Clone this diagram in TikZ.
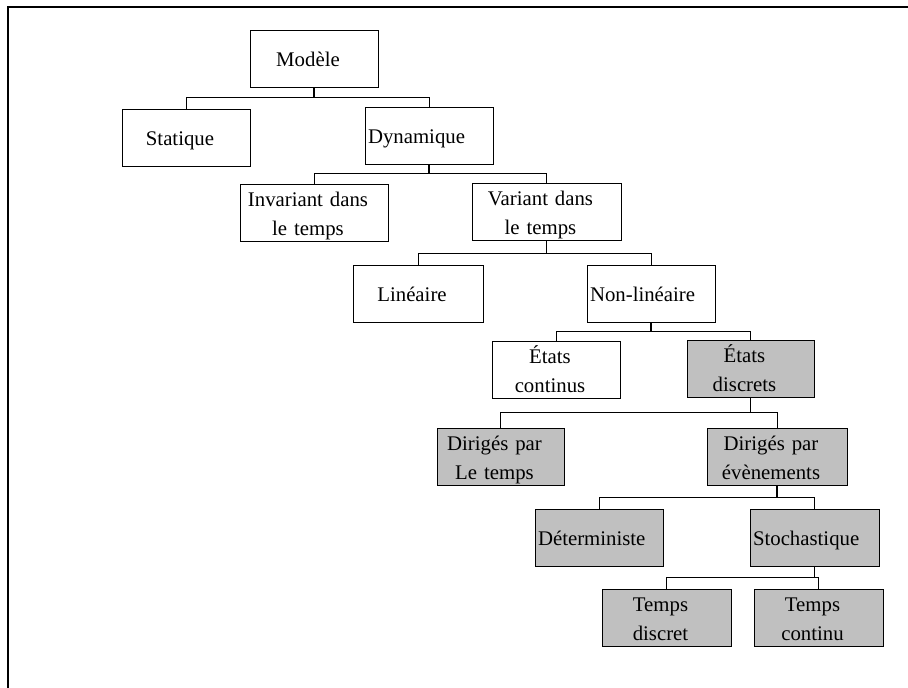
\documentclass[tikz,border=0pt]{standalone}
\usepackage{fontspec}
\setmainfont{Liberation Serif}
\usetikzlibrary{positioning}
\definecolor{boxgray}{RGB}{192,192,192}

\begin{document}
\begin{tikzpicture}[
    x=1pt, y=-1pt,
    every node/.append style={font={\fontsize{20.8}{29}\selectfont}},
    box/.style={draw, rectangle, line width=1pt, minimum width=#1, text width=#1,
                minimum height=57pt, inner xsep=0pt, inner ysep=0pt, align=center,
                execute at begin node={\rule[-5pt]{0pt}{26pt}\advance\rightskip by 12pt},
                execute at end node={\rule[-5pt]{0pt}{26pt}}},
    box/.default=128pt,
    boxl/.style={box=#1, align=left, execute at begin node={\leftskip=3pt}},
    boxl/.default=128pt,
    greybox/.style={fill=boxgray},
    link/.style={line width=1pt},
    stem/.style={line width=1.7pt}
  ]
  \useasboundingbox (0,0) rectangle (908,688);
  \draw[line width=1.8pt] (8,688) -- (8,7) -- (908,7);

  \node (M)  [box] at (314,58.5) {Modèle};
  \node (S)  [box, below=21pt of M, xshift=-128pt] {Statique};
  \node (D)  [boxl, below=19pt of M, xshift=115pt] {Dynamique};
  \node (I)  [box=148pt, below=19pt of D, xshift=-115pt] {Invariant dans\\le temps};
  \node (V)  [box=149pt, below=18pt of D, xshift=117.5pt] {Variant dans\\le temps};
  \node (L)  [box=130pt, below=24pt of V, xshift=-128.5pt] {Linéaire};
  \node (N)  [boxl, below=24pt of V, xshift=104.5pt] {Non-linéaire};
  \node (EC) [box, below=18pt of N, xshift=-95pt] {États\\continus};
  \node (ED) [box=127pt, greybox, below=17pt of N, xshift=99.5pt] {États\\discrets};
  \node (DT) [box=127pt, greybox, below=30pt of ED, xshift=-250pt] {Dirigés par\\Le temps};
  \node (DE) [box=140pt, greybox, below=30pt of ED, xshift=26.5pt] {Dirigés par\\évènements};
  \node (DD) [boxl, greybox, below=23pt of DE, xshift=-178pt] {Déterministe};
  \node (SD) [boxl=129pt, greybox, below=23pt of DE, xshift=37.5pt] {Stochastique};
  \node (TD) [box=129pt, greybox, below=22pt of SD, xshift=-148pt] {Temps\\discret};
  \node (TC) [box=129pt, greybox, below=22pt of SD, xshift=4pt] {Temps\\continu};

  % parent -> child, bus line below the parent
  \foreach \p/\c/\b in {M/S/10, M/D/10, D/I/9, D/V/9, V/L/13, V/N/13, N/EC/9, N/ED/9,
                        ED/DT/15, ED/DE/15, DE/DD/12, DE/SD/12, SD/TD/11, SD/TC/11}
  {
    \draw[link] (\p.south) -- ++(0,\b) -| (\c.north);
    \draw[stem] (\p.south) -- ++(0,\b);
  }
\end{tikzpicture}
\end{document}
